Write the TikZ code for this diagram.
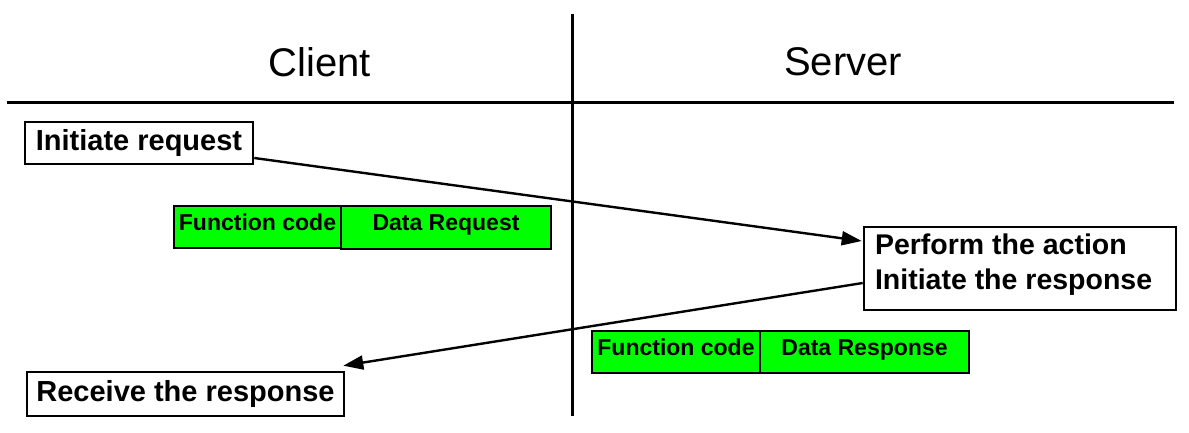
\documentclass[tikz,border=0pt]{standalone}
\usepackage{fontspec}
\setmainfont{Liberation Sans}
\usetikzlibrary{arrows.meta}
\definecolor{pktgreen}{HTML}{00FF00}
\newcommand{\liftby}[2]{\raisebox{#1}[0pt][0pt]{#2}}
\begin{document}
\begin{tikzpicture}[x=1pt,y=-1pt,
  lane/.style={line width=3pt},
  head/.style={font=\fontsize{40}{44}\selectfont},
  actbox/.style={draw, line width=2.6pt, fill=white, inner sep=0pt, font=\bfseries\fontsize{29}{35}\selectfont},
  pkt/.style={draw, line width=2.6pt, fill=pktgreen, inner sep=0pt, font=\bfseries\fontsize{23}{24}\selectfont},
  msg/.style={line width=2.4pt, -{Triangle[length=20pt,width=14pt]}}]
\useasboundingbox (0,0) rectangle (1189,432);
\coordinate (hl) at (7,102);
\coordinate (hr) at (1174,102);
\coordinate (vt) at (572,14);
\coordinate (vb) at (572,416);
\draw[lane] (hl) -- (hr);
\draw[lane] (vt) -- (vb);
\node[head] (client) at (320,62) {Client};
\node[head] (server) at (843,62) {Server};
\node[actbox, minimum width=228pt, minimum height=42pt] (init) at (139,143) {Initiate request};
\node[pkt, minimum width=167pt, minimum height=42pt] (fc1) at (257.5,227) {\liftby{-3pt}{Function code}};
\node[pkt, minimum width=210pt, minimum height=43pt] (dreq) at (446,227.5) {\liftby{-3pt}{Data Request}};
\node[actbox, minimum width=312pt, minimum height=83pt, font=\bfseries\fontsize{28.5}{35}\selectfont] (perform) at (1020,268.5) {\liftby{-2pt}{\parbox{290pt}{Perform the action\\Initiate the response}}};
\node[pkt, minimum width=168pt, minimum height=42pt] (fc2) at (676,352) {\liftby{-3pt}{Function code}};
\node[pkt, minimum width=209pt, minimum height=42pt] (dresp) at (864.5,352) {\liftby{-3pt}{Data Response}};
\node[actbox, minimum width=317pt, minimum height=44pt] (receive) at (185.5,394) {Receive the response};
\draw[msg] ([yshift=-15pt]init.east) -- ([yshift=27.5pt,xshift=-1pt]perform.west);
\draw[msg] ([yshift=-14.5pt]perform.west) -- ([xshift=-2pt,yshift=5pt]receive.north east);
\end{tikzpicture}
\end{document}
